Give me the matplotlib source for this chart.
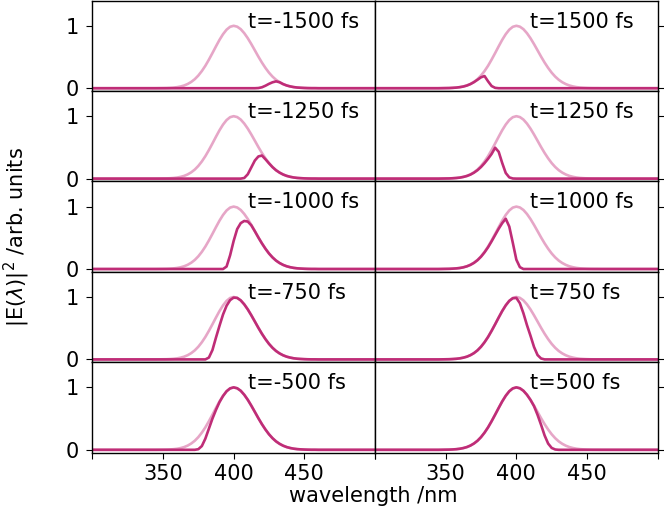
import matplotlib
matplotlib.use("Agg")
import matplotlib.pyplot as plt

# wavelength grid (nm)
wavelength = [300,
              345, 347.5, 350, 352.5, 355, 357.5, 360, 362.5, 365, 367.5,
              370, 372.5, 375, 377.5, 380, 382.5, 385, 387.5, 390, 392.5,
              395, 397.5, 400, 402.5, 405, 407.5, 410, 412.5, 415, 417.5,
              420, 422.5, 425, 427.5, 430, 432.5, 435, 437.5, 440, 442.5,
              445, 447.5, 450, 452.5, 455, 457.5, 460, 462.5, 465,
              500]

# full pulse spectrum (light curve), same in every panel
spectrum = [0.000, 0.001, 0.002, 0.003, 0.006, 0.010, 0.017, 0.028, 0.044, 0.068,
            0.101, 0.145, 0.203, 0.275, 0.360, 0.458, 0.563, 0.671, 0.775, 0.866,
            0.938, 0.984, 1.000, 0.986, 0.946, 0.882, 0.801, 0.707, 0.607, 0.506,
            0.411, 0.325, 0.249, 0.186, 0.135, 0.096, 0.066, 0.044, 0.029, 0.018,
            0.011, 0.007, 0.004, 0.002, 0.001, 0.001, 0.000, 0.000, 0.000]

# gated spectra, negative delays (left column)
gated_m1500 = [0, 0, 0, 0, 0, 0, 0, 0, 0, 0,
               0, 0, 0, 0, 0, 0, 0, 0, 0, 0,
               0, 0, 0, 0, 0, 0, 0, 0, 0, 0.003,
               0.015, 0.040, 0.070, 0.095, 0.110, 0.096, 0.066, 0.044, 0.029, 0.018,
               0.011, 0.007, 0.004, 0.002, 0.001, 0.001, 0, 0, 0]
gated_m1250 = [0, 0, 0, 0, 0, 0, 0, 0, 0, 0,
               0, 0, 0, 0, 0, 0, 0, 0, 0, 0,
               0, 0, 0, 0, 0, 0.010, 0.070, 0.180, 0.290, 0.355,
               0.370, 0.310, 0.245, 0.184, 0.134, 0.096, 0.066, 0.044, 0.029, 0.018,
               0.011, 0.007, 0.004, 0.002, 0.001, 0.001, 0, 0, 0]
gated_m1000 = [0, 0, 0, 0, 0, 0, 0, 0, 0, 0,
               0, 0, 0, 0, 0, 0, 0, 0, 0, 0,
               0.040, 0.220, 0.450, 0.640, 0.735, 0.770, 0.760, 0.700, 0.605, 0.505,
               0.411, 0.325, 0.249, 0.186, 0.135, 0.096, 0.066, 0.044, 0.029, 0.018,
               0.011, 0.007, 0.004, 0.002, 0.001, 0.001, 0, 0, 0]
gated_m750 = [0, 0, 0, 0, 0, 0, 0, 0, 0, 0,
              0, 0, 0, 0, 0, 0.030, 0.150, 0.350, 0.540, 0.720,
              0.860, 0.950, 0.990, 0.985, 0.946, 0.882, 0.801, 0.707, 0.607, 0.506,
              0.411, 0.325, 0.249, 0.186, 0.135, 0.096, 0.066, 0.044, 0.029, 0.018,
              0.011, 0.007, 0.004, 0.002, 0.001, 0.001, 0, 0, 0]
gated_m500 = [0, 0, 0, 0, 0, 0, 0, 0, 0, 0,
              0, 0, 0.010, 0.060, 0.180, 0.340, 0.500, 0.640, 0.765, 0.862,
              0.938, 0.984, 1.000, 0.986, 0.946, 0.882, 0.801, 0.707, 0.607, 0.506,
              0.411, 0.325, 0.249, 0.186, 0.135, 0.096, 0.066, 0.044, 0.029, 0.018,
              0.011, 0.007, 0.004, 0.002, 0.001, 0.001, 0, 0, 0]

# gated spectra, positive delays (right column)
gated_p1500 = [0.000, 0.001, 0.002, 0.003, 0.006, 0.010, 0.017, 0.027, 0.043, 0.066,
               0.097, 0.135, 0.175, 0.195, 0.110, 0.035, 0.006, 0, 0, 0,
               0, 0, 0, 0, 0, 0, 0, 0, 0, 0,
               0, 0, 0, 0, 0, 0, 0, 0, 0, 0,
               0, 0, 0, 0, 0, 0, 0, 0, 0]
gated_p1250 = [0.000, 0.001, 0.002, 0.003, 0.006, 0.010, 0.016, 0.027, 0.042, 0.064,
               0.095, 0.135, 0.186, 0.248, 0.318, 0.395, 0.495, 0.430, 0.250, 0.090,
               0.020, 0.002, 0, 0, 0, 0, 0, 0, 0, 0,
               0, 0, 0, 0, 0, 0, 0, 0, 0, 0,
               0, 0, 0, 0, 0, 0, 0, 0, 0]
gated_p1000 = [0.000, 0.001, 0.002, 0.003, 0.006, 0.010, 0.016, 0.027, 0.043, 0.066,
               0.098, 0.141, 0.197, 0.267, 0.349, 0.444, 0.545, 0.645, 0.735, 0.805,
               0.680, 0.420, 0.150, 0.030, 0, 0, 0, 0, 0, 0,
               0, 0, 0, 0, 0, 0, 0, 0, 0, 0,
               0, 0, 0, 0, 0, 0, 0, 0, 0]
gated_p750 = [0.000, 0.001, 0.002, 0.003, 0.006, 0.010, 0.017, 0.028, 0.044, 0.068,
              0.101, 0.145, 0.203, 0.275, 0.360, 0.458, 0.563, 0.671, 0.775, 0.866,
              0.938, 0.980, 0.985, 0.900, 0.740, 0.550, 0.380, 0.200, 0.070, 0.015,
              0, 0, 0, 0, 0, 0, 0, 0, 0, 0,
              0, 0, 0, 0, 0, 0, 0, 0, 0]
gated_p500 = [0.000, 0.001, 0.002, 0.003, 0.006, 0.010, 0.017, 0.028, 0.044, 0.068,
              0.101, 0.145, 0.203, 0.275, 0.360, 0.458, 0.563, 0.671, 0.775, 0.866,
              0.938, 0.984, 1.000, 0.986, 0.946, 0.882, 0.800, 0.700, 0.560, 0.400,
              0.230, 0.100, 0.030, 0.005, 0, 0, 0, 0, 0, 0,
              0, 0, 0, 0, 0, 0, 0, 0, 0]

delays_left = [-1500, -1250, -1000, -750, -500]
delays_right = [1500, 1250, 1000, 750, 500]
gated_left = [gated_m1500, gated_m1250, gated_m1000, gated_m750, gated_m500]
gated_right = [gated_p1500, gated_p1250, gated_p1000, gated_p750, gated_p500]

x_ticks = [300, 350, 400, 450, 500]
x_ticklabels = ['', '350', '400', '450', '']

LIGHT = '#e6a6c7'
DARK = '#bf2d77'


def padded(vals):
    # curves sit flat on zero out to the panel edges
    return [0] + vals + [0]


plt.rcParams['font.family'] = ['DejaVu Sans']
plt.rcParams['font.size'] = 15

fig, axes = plt.subplots(5, 2, figsize=(6.64, 5.09), dpi=100,
                         sharex=True, sharey=True,
                         gridspec_kw=dict(hspace=0, wspace=0))
fig.subplots_adjust(left=0.139, right=0.9905, top=0.999, bottom=0.111)

for row in range(5):
    for col in range(2):
        ax = axes[row, col]
        delay = delays_left[row] if col == 0 else delays_right[row]
        gated = gated_left[row] if col == 0 else gated_right[row]

        ax.plot(wavelength, padded(spectrum), color=LIGHT, lw=1.9)
        ax.plot(wavelength, padded(gated), color=DARK, lw=1.9)
        ax.text(410, 0.97, f't={delay} fs', fontsize=15, va='baseline')

        ax.set_xlim(300, 500)
        ax.set_ylim(-0.043, 1.405)
        ax.set_yticks([0, 1])
        ax.set_xticks(x_ticks)
        ax.set_xticklabels(x_ticklabels)
        ax.tick_params(direction='out', length=4.5, width=0.8,
                       labelsize=15, pad=5)
        ax.tick_params(axis='x', pad=3.5)
        for sp in ax.spines.values():
            sp.set_linewidth(1.0)

        if col == 1:
            ax.tick_params(axis='y', left=False, right=True,
                           labelleft=False, labelright=False)
        if row < 4:
            ax.tick_params(axis='x', bottom=False)

fig.text(0.026, 0.535, r'|E($\lambda$)|$^2$ /arb. units', rotation=90,
         ha='center', va='center', fontsize=15)
fig.text(0.562, 0.014, 'wavelength /nm', ha='center', va='baseline', fontsize=15)

plt.savefig('out.png', dpi=100)
